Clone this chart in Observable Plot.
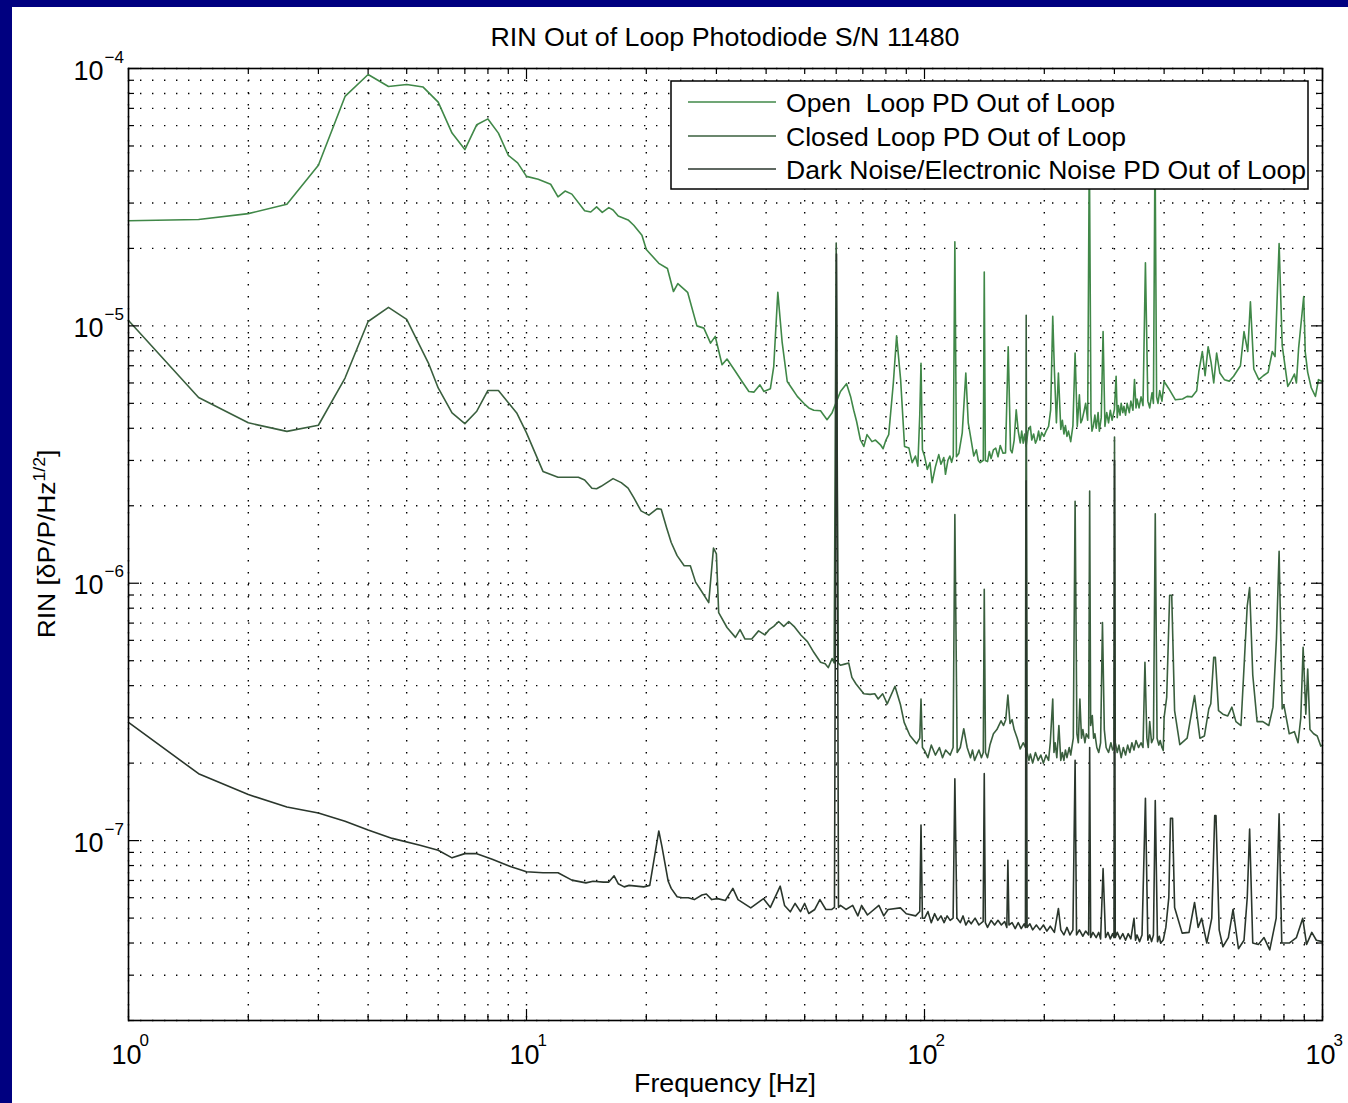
<!DOCTYPE html>
<html>
<head>
<meta charset="utf-8">
<script src="https://cdn.jsdelivr.net/npm/d3@7"></script>
<script src="https://cdn.jsdelivr.net/npm/@observablehq/plot@0.6"></script>
<style>
  html, body { margin: 0; padding: 0; background: #000080; }
  #page { position: relative; width: 1348px; height: 1103px; overflow: hidden; background: #000080; }
  #fig { position: absolute; left: 12px; top: 7px; width: 1336px; height: 1096px; background: #ffffff; }
  #ov { position: absolute; left: 0; top: 0; pointer-events: none; }
  text { font-family: "Liberation Sans", Arial, Helvetica, sans-serif; }
</style>
</head>
<body>
<div id="page">
  <div id="fig"></div>
  <svg id="ov" width="1348" height="1103" xmlns="http://www.w3.org/2000/svg">
    <text x="725" y="46" text-anchor="middle" font-size="25" textLength="469" lengthAdjust="spacingAndGlyphs">RIN Out of Loop Photodiode S/N 11480</text>
    <text x="725" y="1092" text-anchor="middle" font-size="25" textLength="182" lengthAdjust="spacingAndGlyphs">Frequency [Hz]</text>
    <g transform="translate(55,544) rotate(-90) scale(1.1,1)">
      <text x="0" y="0" text-anchor="middle" font-size="24">RIN [δP/P/Hz<tspan dy="-10" font-size="16">1/2</tspan><tspan dy="10">]</tspan></text>
    </g>
    <g id="legend">
      <rect x="671" y="81" width="637" height="108" fill="#ffffff" stroke="#000" stroke-width="1.5"></rect>
      <line x1="688" x2="776" y1="102" y2="102" stroke="#408848" stroke-width="1.6"></line>
      <line x1="688" x2="776" y1="136" y2="136" stroke="#3a5f3e" stroke-width="1.6"></line>
      <line x1="688" x2="776" y1="169" y2="169" stroke="#2a362c" stroke-width="1.6"></line>
      <text x="786" y="112" font-size="25" style="white-space:pre" textLength="329" lengthAdjust="spacingAndGlyphs">Open  Loop PD Out of Loop</text>
      <text x="786" y="146" font-size="25" textLength="340" lengthAdjust="spacingAndGlyphs">Closed Loop PD Out of Loop</text>
      <text x="786" y="179" font-size="25" textLength="520" lengthAdjust="spacingAndGlyphs">Dark Noise/Electronic Noise PD Out of Loop</text>
    </g>
  </svg>
</div>
<script>
// ---------- data ----------
const openFreq = [1,1.5,2,2.5,3,3.5,4,4.5,5,5.5,6,6.5,7,7.5,8,8.5,9,9.5,10,10.7,11.5,12,12.5,13,14,14.5,15,15.5,16.1,16.5,17,18,18.6,19.5,20,21.5,22.6,23.4,24,25.4,26.8,27.9,29,29.8,31,31.9,33.5,34.8,36.2,37.3,38.6,39.5,41,41.8,42.8,43.9,45.2,46.5,47.9,49.8,51.2,52.7,54.8,56.9,58.6,61.5,63.7,65.2,66.4,67.5,69,70.4,71.7,73.8,75.3,77.5,78.7,80,81.3,83.5,85.1,87.1,89.1,91.4,93.1,94.9,96.2,97.3,98,98.8,
  100,101.6,103.2,104.5,106.6,108.6,110,111.8,112.9,114.5,115.8,117,118.1,119.2,120.3,122,124.4,127,128.8,130.5,133,135,136.5,138,140.5,141.3,142.2,144,145.5,147,149,151,153,155,157.5,159.8,162.3,164.5,166,168,170,172,174,175.5,177,178.5,180,182,184.5,186,188,190,191.6,193.5,195,197,199.5,202,205,207.5,210,212,214.5,217,220,222,224,226,228,230,233,236,239,242,245,247,249,252,254,257,259.5,262,263.5,265.5,268,270,273,275,278,281,284,287,290,293,296,300,303,305,307,310,312,315,317,320,323,327,330,334,337,340,342,346,350,354,359,364,368,373,376,379.5,383,386,390,395,
  400,411,427,445,457,470,483,489,499,507,516,525,533,542,552,567,583,598,622,635,649,659,672,692,710,730,748,760,778,792,800,818,833,850,860,871,897,905,918,937,960,977,1000];
const openRin = [2.56e-5,2.59e-5,2.73e-5,2.97e-5,4.21e-5,7.79e-5,9.48e-5,8.51e-5,8.67e-5,8.47e-5,7.40e-5,5.61e-5,4.84e-5,6.05e-5,6.37e-5,5.61e-5,4.60e-5,4.30e-5,3.81e-5,3.71e-5,3.55e-5,3.17e-5,3.34e-5,3.25e-5,2.80e-5,2.77e-5,2.90e-5,2.76e-5,2.88e-5,2.82e-5,2.67e-5,2.58e-5,2.46e-5,2.25e-5,1.98e-5,1.75e-5,1.67e-5,1.36e-5,1.46e-5,1.35e-5,1.0e-5,9.8e-6,8.57e-6,9.1e-6,7.06e-6,7.43e-6,6.65e-6,6.08e-6,5.56e-6,5.53e-6,5.90e-6,5.56e-6,5.7e-6,6.95e-6,1.35e-5,8.6e-6,6.08e-6,5.7e-6,5.32e-6,4.99e-6,4.80e-6,4.7e-6,4.68e-6,4.32e-6,4.6e-6,5.56e-6,5.96e-6,5.32e-6,4.7e-6,4.26e-6,3.61e-6,3.40e-6,3.78e-6,3.55e-6,3.6e-6,3.45e-6,3.33e-6,3.6e-6,3.78e-6,6.0e-6,9.14e-6,6.18e-6,3.4e-6,3.35e-6,2.94e-6,3.12e-6,2.85e-6,4.5e-6,7.16e-6,3.3e-6,
  3.12e-6,2.77e-6,2.94e-6,2.46e-6,2.85e-6,3.16e-6,2.9e-6,3.08e-6,2.65e-6,3.0e-6,3.12e-6,2.95e-6,3.12e-6,2.12e-5,3.1e-6,3.2e-6,3.84e-6,6.56e-6,4.2e-6,3.72e-6,3.12e-6,3.3e-6,3.0e-6,2.94e-6,3.0e-6,1.62e-5,3.0e-6,2.97e-6,3.25e-6,3.05e-6,3.3e-6,3.35e-6,3.1e-6,3.43e-6,3.2e-6,3.21e-6,8.3e-6,3.3e-6,3.21e-6,3.6e-6,4.72e-6,3.9e-6,3.51e-6,3.9e-6,3.5e-6,3.8e-6,3.4e-6,3.9e-6,4.07e-6,3.6e-6,3.8e-6,3.5e-6,3.61e-6,3.9e-6,3.6e-6,3.85e-6,3.72e-6,3.9e-6,4.07e-6,4.72e-6,1.09e-5,6.75e-6,4.2e-6,6.56e-6,3.96e-6,4.3e-6,3.8e-6,4.1e-6,3.72e-6,3.9e-6,3.55e-6,4.1e-6,7.84e-6,4.07e-6,5.4e-6,4.2e-6,4.32e-6,4.7e-6,5.0e-6,4.3e-6,5.0e-5,4.5e-6,3.9e-6,4.07e-6,4.5e-6,4.0e-6,4.6e-6,3.9e-6,4.4e-6,9.5e-6,4.07e-6,4.6e-6,4.2e-6,4.7e-6,4.3e-6,4.72e-6,6.37e-6,4.4e-6,4.9e-6,4.5e-6,5.0e-6,4.6e-6,4.87e-6,4.5e-6,5.0e-6,4.6e-6,5.1e-6,4.7e-6,6.18e-6,4.8e-6,5.2e-6,4.8e-6,5.3e-6,4.9e-6,1.76e-5,5.1e-6,4.8e-6,5.5e-6,5.0e-6,5.0e-5,5.3e-6,5.0e-6,5.6e-6,5.1e-6,
  6.08e-6,5.7e-6,5.16e-6,5.2e-6,5.32e-6,5.3e-6,5.6e-6,6.65e-6,7.95e-6,6.4e-6,8.3e-6,7.2e-6,6.0e-6,7.84e-6,6.56e-6,6.18e-6,6.1e-6,6.37e-6,7.0e-6,9.5e-6,7.95e-6,1.24e-5,6.8e-6,6.18e-6,6.4e-6,6.6e-6,7.95e-6,7.6e-6,2.09e-5,8.4e-6,7.5e-6,5.82e-6,6.1e-6,6.5e-6,6.0e-6,8.2e-6,1.30e-5,7.9e-6,6.6e-6,5.75e-6,5.32e-6,6.18e-6,6.08e-6];

const closedFreq = [1,1.5,2,2.5,3,3.5,4,4.5,5,5.67,6,6.5,7,7.5,8,8.5,9.45,10,11,12,13.5,14,14.6,15,15.4,16.5,17.3,18,18.6,19.4,20.3,21.3,21.8,22.5,23.1,23.9,24.9,25.8,26.6,27.3,28.7,29.5,30,30.4,31.9,33.5,34.4,35.4,36.8,38.3,39.7,40.7,41.8,43,44.3,45.6,47,48.9,50.8,52.7,54.8,56.3,57.3,58.6,59.3,60,60.7,61.5,63,64.5,65.7,67.3,70.4,73,75,76.5,78.5,80.6,84.3,87,88.9,91.9,95.6,97.3,98,98.8,
  100,102,104,106.5,109,111,113,116,118,119.2,120.8,123,125.5,128,130.5,132,133.6,137,139,140.5,141.3,142.3,144,146,149,152,155.7,158,160,162,164,166,168,171,174,177,179.3,180.1,181,183,184.5,187,190,193,196,199,202,205,207,210,211.5,213,215,217.6,220,222,224,226,228,231,233,236.5,239,241.5,243.5,245.7,248,250,253,255,258.5,260,261.5,264,266,268,271,274,277,280,283,286,290,294,297,299.3,300.2,301.5,305,308,312,316,320,324,328,332,336,340,345,350,354,358,362,365,368,372,376,380,384,388,391,395,398,
  400,406,413,418,425,438,457,477,492,505,518,524,533,538,548,562,578,592,606,624,647,656,668,685,708,733,751,766,778,792,800,825,850,868,882,894,908,918,930,950,970,990,1000];
const closedRin = [1.05e-5,5.27e-6,4.2e-6,3.89e-6,4.11e-6,6.27e-6,1.04e-5,1.18e-5,1.06e-5,7.17e-6,5.74e-6,4.59e-6,4.17e-6,4.66e-6,5.61e-6,5.61e-6,4.59e-6,3.84e-6,2.72e-6,2.58e-6,2.58e-6,2.52e-6,2.34e-6,2.33e-6,2.38e-6,2.55e-6,2.46e-6,2.34e-6,2.15e-6,1.91e-6,1.84e-6,1.95e-6,1.94e-6,1.64e-6,1.44e-6,1.28e-6,1.17e-6,1.17e-6,1.01e-6,9.5e-7,8.41e-7,1.37e-6,1.3e-6,7.69e-7,6.73e-7,6.16e-7,6.6e-7,6.07e-7,6.07e-7,6.53e-7,6.3e-7,6.6e-7,6.8e-7,7.1e-7,6.8e-7,7.1e-7,6.8e-7,6.29e-7,5.93e-7,5.39e-7,4.93e-7,4.87e-7,4.7e-7,5.1e-7,4.9e-7,2.1e-5,4.9e-7,4.8e-7,4.85e-7,4.9e-7,4.31e-7,4.06e-7,3.72e-7,3.7e-7,3.72e-7,3.55e-7,3.72e-7,3.4e-7,3.98e-7,3.38e-7,2.88e-7,2.56e-7,2.38e-7,2.5e-7,3.55e-7,2.3e-7,
  2.24e-7,2.1e-7,2.35e-7,2.15e-7,2.3e-7,2.1e-7,2.25e-7,2.15e-7,2.3e-7,1.85e-6,2.2e-7,2.3e-7,2.72e-7,2.3e-7,2.1e-7,2.25e-7,2.05e-7,2.25e-7,2.1e-7,2.2e-7,9.48e-7,2.2e-7,2.1e-7,2.35e-7,2.6e-7,2.7e-7,2.92e-7,2.8e-7,2.95e-7,3.68e-7,2.85e-7,2.95e-7,2.7e-7,2.5e-7,2.27e-7,2.4e-7,2.3e-7,1.1e-5,2.2e-7,2.05e-7,2.17e-7,2.0e-7,2.2e-7,2.05e-7,2.15e-7,2.0e-7,2.15e-7,2.05e-7,2.4e-7,3.55e-7,2.2e-7,2.4e-7,2.1e-7,2.8e-7,2.05e-7,2.2e-7,2.05e-7,2.25e-7,2.1e-7,2.3e-7,2.15e-7,2.5e-7,2.08e-6,2.6e-7,2.4e-7,3.55e-7,2.5e-7,2.7e-7,2.4e-7,2.6e-7,2.5e-7,2.28e-6,2.8e-7,3.06e-7,2.5e-7,2.6e-7,2.3e-7,2.2e-7,2.4e-7,7.04e-7,2.7e-7,2.3e-7,2.2e-7,2.4e-7,2.25e-7,2.3e-7,3.7e-6,2.4e-7,2.2e-7,2.35e-7,2.1e-7,2.3e-7,2.15e-7,2.35e-7,2.2e-7,2.4e-7,2.25e-7,2.45e-7,2.3e-7,2.4e-7,2.3e-7,4.93e-7,2.5e-7,2.3e-7,2.9e-7,2.4e-7,2.5e-7,1.86e-6,2.5e-7,2.35e-7,2.45e-7,2.3e-7,2.24e-7,
  3.01e-7,3.6e-7,8.98e-7,8.98e-7,3.2e-7,2.36e-7,2.5e-7,3.66e-7,2.5e-7,2.55e-7,3.25e-7,3.4e-7,5.15e-7,5.15e-7,3.2e-7,3.1e-7,3.05e-7,3.3e-7,2.9e-7,2.8e-7,8.17e-7,9.62e-7,4.4e-7,2.9e-7,2.9e-7,2.8e-7,3.3e-7,6.07e-7,1.33e-6,3.25e-7,3.35e-7,2.6e-7,2.65e-7,2.4e-7,3.0e-7,5.64e-7,3.1e-7,4.64e-7,2.7e-7,2.6e-7,2.55e-7,2.33e-7,2.35e-7];

const darkFreq = [1,1.5,2,2.5,3,3.5,4,4.6,5.4,6,6.5,7,7.5,8.2,9.15,10,11,12,13,14.1,14.7,15.6,16.1,16.6,17,17.6,18.1,19.7,20.4,21.5,21.9,22.7,23.1,23.9,24.6,25.5,26.4,27.6,28.3,29.2,30.2,31.6,33,34,36.6,39.4,41,43.4,44.5,46,47.3,48.8,50,51.2,53,54.6,56.5,58.5,59.4,60.1,60.8,61.5,63.5,66,68,69.5,71.9,76.8,79,81,87,90,95,97.3,98,98.8,
  100,102,104,106,108,110,112,114,116,118,119.2,120.6,123,125,127,129,131,134,137,140.4,141.3,142.2,144,147,150,153,156,159,161,162,163,166,169,172,175,178,179.3,180.1,181,184,187,191,195,199,203,207,212,217,220,224,228,232,236,239,241,245,250,254,258.5,260,261.5,265,270,274,277,281,285,289,293,297,299.3,300.2,301.5,305,310,315,320,325,330,336,339,342,347,352,359,364,368,372,376,380,385,389,392,398,
  404,411,415,420,425,444,462,477,487,497,512,527,536,540,550,562,580,596,615,635,647,656,668,690,713,737,765,778,790,825,860,892,912,940,965,1000];
const darkRin = [2.88e-7,1.82e-7,1.51e-7,1.35e-7,1.28e-7,1.19e-7,1.10e-7,1.02e-7,9.6e-8,9.17e-8,8.57e-8,8.9e-8,8.9e-8,8.47e-8,7.91e-8,7.57e-8,7.5e-8,7.5e-8,7.02e-8,6.85e-8,6.95e-8,6.9e-8,6.9e-8,7.3e-8,6.8e-8,6.61e-8,6.7e-8,6.61e-8,6.7e-8,1.09e-7,9.45e-8,6.95e-8,6.52e-8,6.05e-8,6.0e-8,6.0e-8,5.9e-8,6.15e-8,6.2e-8,5.9e-8,5.95e-8,5.85e-8,6.52e-8,5.9e-8,5.48e-8,5.95e-8,5.5e-8,6.65e-8,5.6e-8,5.29e-8,5.7e-8,5.3e-8,5.7e-8,5.21e-8,5.4e-8,5.9e-8,5.4e-8,5.4e-8,5.5e-8,1.9e-5,5.5e-8,5.6e-8,5.4e-8,5.6e-8,5.1e-8,5.6e-8,5.14e-8,5.6e-8,5.1e-8,5.4e-8,5.48e-8,5.2e-8,5.1e-8,5.3e-8,1.15e-7,5.0e-8,
  4.99e-8,5.3e-8,4.8e-8,5.2e-8,4.9e-8,5.1e-8,4.8e-8,5.1e-8,4.9e-8,5.0e-8,1.74e-7,5.0e-8,4.8e-8,5.1e-8,4.7e-8,4.9e-8,4.75e-8,5.0e-8,4.7e-8,4.85e-8,1.82e-7,4.8e-8,4.6e-8,4.9e-8,4.7e-8,4.9e-8,4.7e-8,4.85e-8,4.6e-8,8.39e-8,4.7e-8,4.8e-8,4.55e-8,4.8e-8,4.55e-8,4.75e-8,4.6e-8,2.5e-6,4.6e-8,4.75e-8,4.5e-8,4.7e-8,4.5e-8,4.7e-8,4.45e-8,4.65e-8,4.4e-8,5.45e-8,4.5e-8,4.3e-8,4.6e-8,4.3e-8,4.5e-8,2.05e-7,4.3e-8,4.5e-8,4.25e-8,4.45e-8,4.3e-8,2.3e-7,4.2e-8,4.4e-8,4.2e-8,4.4e-8,4.15e-8,7.78e-8,4.2e-8,4.4e-8,4.15e-8,4.35e-8,4.2e-8,3.0e-6,4.2e-8,4.4e-8,4.15e-8,4.35e-8,4.1e-8,4.35e-8,4.15e-8,4.99e-8,4.1e-8,4.3e-8,4.05e-8,4.3e-8,1.46e-7,4.1e-8,4.3e-8,4.05e-8,4.3e-8,1.43e-7,4.05e-8,4.25e-8,4.0e-8,4.11e-8,
  4.6e-8,6.0e-8,1.22e-7,1.22e-7,5.5e-8,4.37e-8,4.4e-8,5.75e-8,4.6e-8,4.99e-8,4.0e-8,5.0e-8,1.25e-7,1.25e-7,4.5e-8,3.87e-8,4.2e-8,5.4e-8,3.8e-8,4.1e-8,6.0e-8,1.11e-7,4.0e-8,3.95e-8,4.2e-8,3.76e-8,5.0e-8,1.27e-7,4.0e-8,4.0e-8,4.2e-8,4.99e-8,3.95e-8,4.4e-8,4.1e-8,4.05e-8];

const seriesNames = ["Open  Loop PD Out of Loop", "Closed Loop PD Out of Loop", "Dark Noise/Electronic Noise PD Out of Loop"];
const seriesColors = ["#408848", "#3a5f3e", "#2a362c"];

const xTickValues = [1, 10, 100, 1000];
const xTickExps = ["0", "1", "2", "3"];
const yTickValues = [1e-4, 1e-5, 1e-6, 1e-7];
const yTickExps = ["\u22124", "\u22125", "\u22126", "\u22127"];

// ---------- build tables ----------
const openData = openFreq.map((f, i) => ({f, v: openRin[i]}));
const closedData = closedFreq.map((f, i) => ({f, v: closedRin[i]}));
const darkData = darkFreq.map((f, i) => ({f, v: darkRin[i]}));

const W = 1336, H = 1096, mL = 116, mR = 26, mT = 61, mB = 83;
const innerW = W - mL - mR, innerH = H - mT - mB;
const xDomain = [1, 1000], yDomain = [2e-8, 1e-4];
const xAll = d3.scaleLog().domain(xDomain).ticks();
const yAll = d3.scaleLog().domain(yDomain).ticks();
const xMinor = xAll.filter(t => !xTickValues.includes(t));
const yMinor = yAll.filter(t => !yTickValues.some(m => Math.abs(m - t) / m < 1e-6));
const dots = "1.4,10.6";
const FONT = "Liberation Sans, Arial, Helvetica, sans-serif";

const chart = Plot.plot({
  width: W, height: H,
  marginLeft: mL, marginRight: mR, marginTop: mT, marginBottom: mB,
  style: {background: "transparent", fontFamily: FONT, overflow: "visible"},
  x: {type: "log", domain: xDomain, axis: null},
  y: {type: "log", domain: yDomain, axis: null},
  marks: [
    Plot.ruleX(xAll, {x: d => d, stroke: "#000", strokeWidth: 1.4, strokeDasharray: dots}),
    Plot.ruleY(yAll, {y: d => d, stroke: "#000", strokeWidth: 1.4, strokeDasharray: dots}),
    Plot.line(openData, {x: "f", y: "v", stroke: seriesColors[0], strokeWidth: 1.6}),
    Plot.line(closedData, {x: "f", y: "v", stroke: seriesColors[1], strokeWidth: 1.6}),
    Plot.line(darkData, {x: "f", y: "v", stroke: seriesColors[2], strokeWidth: 1.6}),
    Plot.tickX(xTickValues, {x: d => d, insetTop: innerH - 11, stroke: "#000", strokeWidth: 1.2}),
    Plot.tickX(xTickValues, {x: d => d, insetBottom: innerH - 11, stroke: "#000", strokeWidth: 1.2}),
    Plot.tickX(xMinor, {x: d => d, insetTop: innerH - 6, stroke: "#000", strokeWidth: 1.2}),
    Plot.tickX(xMinor, {x: d => d, insetBottom: innerH - 6, stroke: "#000", strokeWidth: 1.2}),
    Plot.tickY(yTickValues, {y: d => d, insetRight: innerW - 11, stroke: "#000", strokeWidth: 1.2}),
    Plot.tickY(yTickValues, {y: d => d, insetLeft: innerW - 11, stroke: "#000", strokeWidth: 1.2}),
    Plot.tickY(yMinor, {y: d => d, insetRight: innerW - 6, stroke: "#000", strokeWidth: 1.2}),
    Plot.tickY(yMinor, {y: d => d, insetLeft: innerW - 6, stroke: "#000", strokeWidth: 1.2}),
    Plot.frame({stroke: "#000", strokeWidth: 1.6}),
    Plot.text(xTickValues, {x: d => d, frameAnchor: "bottom", text: () => "10", textAnchor: "middle", lineAnchor: "bottom", dx: -2, dy: 43, fontSize: 27, fill: "#000"}),
    Plot.text(xTickValues, {x: d => d, frameAnchor: "bottom", text: (d, i) => xTickExps[i], textAnchor: "start", lineAnchor: "bottom", dx: 11, dy: 25, fontSize: 17, fill: "#000"}),
    Plot.text(yTickValues, {y: d => d, frameAnchor: "left", text: () => "10", textAnchor: "end", lineAnchor: "bottom", dx: -25, dy: 11, fontSize: 27, fill: "#000"}),
    Plot.text(yTickValues, {y: d => d, frameAnchor: "left", text: (d, i) => yTickExps[i], textAnchor: "start", lineAnchor: "bottom", dx: -24, dy: -6, fontSize: 17, fill: "#000"})
  ]
});
document.getElementById("fig").appendChild(chart);
</script>
</body>
</html>
